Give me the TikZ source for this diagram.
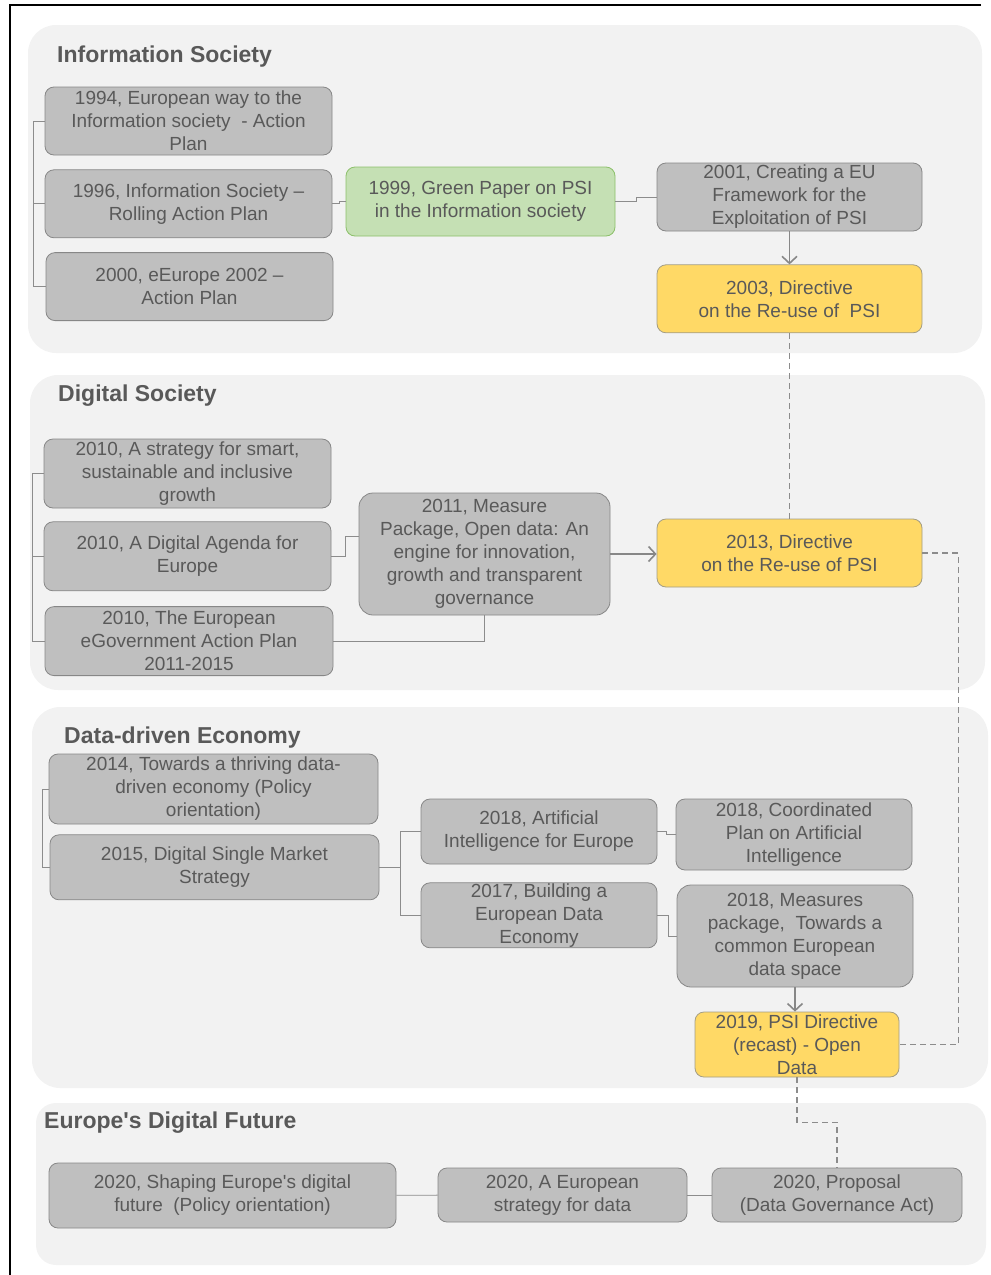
\documentclass[tikz,border=0pt]{standalone}
\usepackage{fontspec}
\usepackage{xcolor}
\usepackage{tikz}
\setmainfont{Liberation Sans}
\definecolor{panelgray}{HTML}{F2F2F2}
\definecolor{boxgray}{HTML}{BFBFBF}
\definecolor{boxline}{HTML}{878787}
\definecolor{textgray}{HTML}{595959}
\definecolor{linkgray}{HTML}{8C8C8C}
\definecolor{greenfill}{HTML}{C5E0B4}
\definecolor{greenline}{HTML}{8CC06A}
\definecolor{yellowfill}{HTML}{FFD966}
\definecolor{yellowline}{HTML}{A39D84}
\usetikzlibrary{positioning, arrows.meta}

\begin{document}
\begin{tikzpicture}[x=1pt, y=-1pt,
    every node/.style={text=textgray, font=\fontsize{19}{23}\selectfont},
    panel/.style={fill=panelgray, rounded corners=28pt},
    heading/.style={anchor=base west, inner sep=0pt, font=\fontsize{23}{27}\selectfont\bfseries},
    doc/.style={draw=boxline, fill=boxgray, rounded corners=9pt, align=center, inner sep=0pt, line width=0.8pt},
    green doc/.style={doc, draw=greenline, fill=greenfill},
    key doc/.style={doc, draw=yellowline, fill=yellowfill},
    link/.style={draw=linkgray, line width=0.9pt},
    arr/.style={draw=boxline, line width=1.6pt, -{Straight Barb[length=7pt, width=15pt]}},
    dashlink/.style={draw=linkgray, line width=1.2pt, dash pattern=on 6pt off 4pt}]
    \useasboundingbox (0,0) rectangle (991,1275);

    % frame
    \draw[line width=2.5pt] (981,5) -- (10,5) -- (10,1276);

    % background panels
    \fill[panel] (28,25) rectangle (982,353);
    \fill[panel] (30,375) rectangle (985,690);
    \fill[panel] (32,707) rectangle (988,1088);
    \fill[panel, rounded corners=20pt] (36,1103) rectangle (986,1265);

    \node[heading] (hinfo) at (57,62) {Information Society};
    \node[heading] (hdigital) at (58,401) {Digital Society};
    \node[heading] (hdata) at (64,743) {Data-driven Economy};
    \node[heading] (hfuture) at (44,1128) {Europe\textquotesingle s Digital Future};

    % Information Society
    \node[doc, minimum width=287pt, minimum height=68pt] (b1994) at (188.5,121)
        {1994, European way to the\\Information society \ - Action\\Plan};
    \node[doc, minimum width=287pt, minimum height=68pt, below=14pt of b1994] (b1996)
        {1996, Information Society --\\Rolling Action Plan};
    \node[doc, minimum width=287pt, minimum height=68pt, below=14pt of b1996, xshift=1pt] (b2000)
        {2000, eEurope 2002 --\\Action Plan};
    \node[green doc, minimum width=269pt, minimum height=69pt] (g1999) at (480.5,201.5)
        {1999, Green Paper on PSI\\in the Information society};
    \node[doc, minimum width=265pt, minimum height=68pt] (b2001) at (789.5,197)
        {2001, Creating a EU\\Framework for the\\Exploitation of PSI};
    \node[key doc, minimum width=265pt, minimum height=68pt, below=33pt of b2001] (y2003)
        {2003, Directive\\on the Re-use of \ PSI};

    \draw[link] (b1996.west) -- ++(-11,0) |- (b1994.west);
    \draw[link] (b1996.west) -- ++(-11,0) |- (b2000.west);
    \draw[link] (b1996.east) -- ++(7,0) |- (g1999.west);
    \draw[link] (g1999.east) -- ++(21,0) |- (b2001.west);
    \draw[arr] (b2001) -- (y2003);

    % Digital Society
    \node[doc, minimum width=287pt, minimum height=69pt] (c2010a) at (187.5,473.5)
        {2010, A strategy for smart,\\sustainable and inclusive\\growth};
    \node[doc, minimum width=287pt, minimum height=69pt, below=13pt of c2010a] (c2010b)
        {2010, A Digital Agenda for\\Europe};
    \node[doc, minimum width=288pt, minimum height=69pt, below=15pt of c2010b, xshift=1.5pt] (c2010c)
        {2010, The European\\eGovernment Action Plan\\2011-2015};
    \node[doc, minimum width=251pt, minimum height=122pt, rounded corners=14pt] (c2011) at (484.5,554)
        {2011, Measure\\Package, Open data: An\\engine for innovation,\\growth and transparent\\governance};
    \node[key doc, minimum width=265pt, minimum height=68pt] (y2013) at (789.5,553)
        {2013, Directive\\on the Re-use of PSI};

    \draw[link] (c2010b.west) -- ++(-11,0) |- (c2010a.west);
    \draw[link] (c2010b.west) -- ++(-11,0) |- (c2010c.west);
    \draw[link] (c2010b.east) -- ++(14,0) |- ([yshift=18pt]c2011.west);
    \draw[link] (c2010c.east) -| (c2011.south);
    \draw[arr] (c2011.east) -- (c2011.east -| y2013.west);
    \draw[dashlink] (y2003) -- (y2013);

    % Data-driven Economy
    \node[doc, minimum width=329pt, minimum height=70pt] (d2014) at (213.5,789)
        {2014, Towards a thriving data-\\driven economy (Policy\\orientation)};
    \node[doc, minimum width=329pt, minimum height=65pt, below=10pt of d2014, xshift=1pt] (d2015)
        {2015, Digital Single Market\\Strategy};
    \node[doc, minimum width=236pt, minimum height=65pt] (d2018a) at (539,831.5)
        {2018, Artificial\\Intelligence for Europe};
    \node[doc, minimum width=236pt, minimum height=65pt, below=18pt of d2018a] (d2017)
        {2017, Building a\\European Data\\Economy};
    \node[doc, minimum width=236pt, minimum height=71pt] (d2018b) at (794,834.5)
        {2018, Coordinated\\Plan on Artificial\\Intelligence};
    \node[doc, minimum width=236pt, minimum height=102pt, rounded corners=14pt] (d2018c) at (795,936)
        {2018, Measures\\package, \ Towards a\\common European\\data space};
    \node[key doc, minimum width=204pt, minimum height=65pt] (y2019) at (797,1044.5)
        {2019, PSI Directive\\(recast) - Open\\Data};

    \draw[link] (d2015.west) -- ++(-7,0) |- (d2014.west);
    \draw[link] (d2015.east) -- ++(21,0) |- (d2018a.west);
    \draw[link] (d2015.east) -- ++(21,0) |- (d2017.west);
    \draw[link] (d2018a.east) -- ++(9,0) |- (d2018b.west);
    \draw[link] (d2017.east) -- ++(11,0) |- (d2018c.west);
    \draw[arr] (d2018c.south) -- (d2018c.south |- y2019.north);
    \draw[dashlink] (y2013.east) -- ++(36,0) |- (y2019.east);

    % Europe's Digital Future
    \node[doc, minimum width=347pt, minimum height=65pt] (e2020a) at (222.5,1195.5)
        {2020, Shaping Europe\textquotesingle s digital\\future \ (Policy orientation)};
    \node[doc, minimum width=249pt, minimum height=54pt] (e2020b) at (562.5,1195)
        {2020, A European\\strategy for data};
    \node[doc, minimum width=250pt, minimum height=54pt] (e2020c) at (837,1195)
        {2020, Proposal\\(Data Governance Act)};

    \draw[link] (e2020a) -- (e2020b);
    \draw[link] (e2020b) -- (e2020c);
    \draw[dashlink] (y2019.south) -- ++(0,45) -| (e2020c.north);
\end{tikzpicture}
\end{document}
